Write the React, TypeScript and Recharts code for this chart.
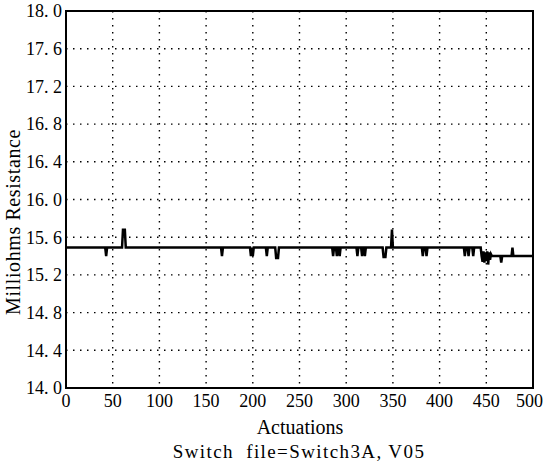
import {
  LineChart,
  Line,
  XAxis,
  YAxis,
  CartesianGrid,
  ReferenceArea,
  Label,
} from "recharts";

// actuation number where the trace changes, and the resistance read there
const actuations = [
  0, 42, 43, 44, 60, 61, 63, 64, 166, 167, 168, 197, 198, 199, 200, 201, 214,
  215, 216, 224, 225, 227, 228, 285, 286, 287, 289, 290, 291, 292, 293, 294,
  311, 312, 313, 316, 317, 318, 319, 320, 321, 339, 340, 342, 343, 348, 349,
  350, 381, 382, 383, 385, 386, 387, 426, 427, 428, 430, 431, 432, 435, 436,
  437, 444, 445, 446, 447, 448, 449, 450, 451, 452, 453, 454, 455, 456, 459,
  465, 466, 467, 477, 478, 479, 500,
];
const milliohms = [
  15.49, 15.49, 15.4, 15.49, 15.49, 15.68, 15.68, 15.49, 15.49, 15.4, 15.49,
  15.49, 15.4, 15.49, 15.4, 15.49, 15.49, 15.4, 15.49, 15.49, 15.38, 15.38,
  15.49, 15.49, 15.4, 15.49, 15.49, 15.4, 15.49, 15.49, 15.4, 15.49, 15.49,
  15.4, 15.49, 15.49, 15.4, 15.49, 15.49, 15.4, 15.49, 15.49, 15.39, 15.39,
  15.49, 15.49, 15.68, 15.49, 15.49, 15.4, 15.49, 15.49, 15.4, 15.49, 15.49,
  15.4, 15.49, 15.49, 15.4, 15.49, 15.49, 15.4, 15.49, 15.49, 15.4, 15.34,
  15.45, 15.33, 15.44, 15.35, 15.45, 15.31, 15.44, 15.36, 15.42, 15.4, 15.4,
  15.4, 15.33, 15.4, 15.4, 15.49, 15.4, 15.4,
];

const xTicks = [0, 50, 100, 150, 200, 250, 300, 350, 400, 450, 500];
const yTicks = [
  14.0, 14.4, 14.8, 15.2, 15.6, 16.0, 16.4, 16.8, 17.2, 17.6, 18.0,
];

const data = actuations.map((a, i) => ({ a, r: milliohms[i] }));

const font = "'Liberation Serif', 'Times New Roman', serif";
const txt = { fontFamily: font };
const fmtY = (v: number) => v.toFixed(1).replace(".", ". ");

export default function App() {
  return (
    <div style={{ position: "absolute", left: 0, top: 0, fontFamily: font }}>
      <LineChart
        width={543}
        height={462}
        data={data}
        margin={{ top: 11, right: 10, bottom: 0, left: 0 }}
        style={txt}
      >
        <CartesianGrid
          stroke="#000"
          strokeDasharray="1.5 5.5"
          strokeWidth={1.4}
        />
        <XAxis
          dataKey="a"
          type="number"
          domain={[0, 500]}
          ticks={xTicks}
          height={74}
          tickLine={false}
          tickSize={5}
          tickMargin={1}
          axisLine={{ stroke: "#000", strokeWidth: 2 }}
          tick={{ fill: "#000", fontSize: 18, style: txt }}
        >
          <Label
            content={() => (
              <text
                x={300}
                y={434}
                textAnchor="middle"
                fontSize={20}
                fill="#000"
                style={txt}
              >
                Actuations
              </text>
            )}
          />
          <Label
            content={() => (
              <text
                x={299}
                y={458}
                textAnchor="middle"
                fontSize={19}
                letterSpacing={1.4}
                fill="#000"
                style={{ ...txt, whiteSpace: "pre" }}
              >
                Switch  file=Switch3A, V05
              </text>
            )}
          />
        </XAxis>
        <YAxis
          type="number"
          domain={[14, 18]}
          ticks={yTicks}
          width={66}
          tickLine={false}
          tickSize={0}
          tickMargin={4}
          tickFormatter={fmtY}
          axisLine={{ stroke: "#000", strokeWidth: 2 }}
          tick={{ fill: "#000", fontSize: 18, style: txt }}
        >
          <Label
            content={() => (
              <text
                x={0}
                y={0}
                transform="translate(20 222) rotate(-90)"
                textAnchor="middle"
                fontSize={20}
                letterSpacing={0.6}
                fill="#000"
                style={txt}
              >
                Milliohms Resistance
              </text>
            )}
          />
        </YAxis>
        <ReferenceArea
          x1={0}
          x2={500}
          y1={14}
          y2={18}
          fill="none"
          stroke="#000"
          strokeWidth={2}
        />
        <Line
          type="linear"
          dataKey="r"
          stroke="#000"
          strokeWidth={2.5}
          dot={false}
          isAnimationActive={false}
        />
      </LineChart>
    </div>
  );
}
